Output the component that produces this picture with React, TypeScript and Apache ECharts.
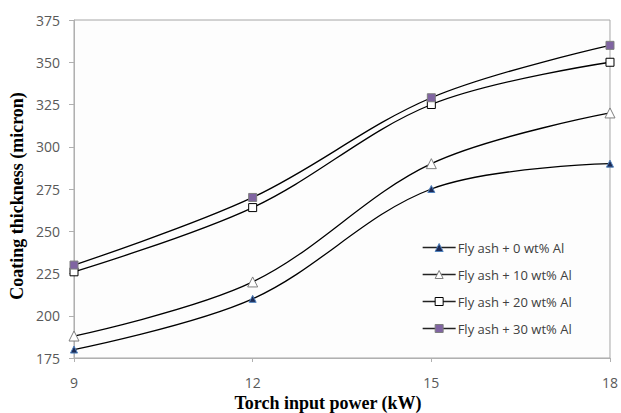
import React, { useEffect, useRef } from "react";
import * as echarts from "echarts";

const power = [9, 12, 15, 18];
const al0 = [180, 210, 275, 290];
const al10 = [188, 220, 290, 320];
const al20 = [226, 264, 325, 350];
const al30 = [230, 270, 329, 360];
const seriesNames = [
  "Fly ash + 0 wt% Al",
  "Fly ash + 10 wt% Al",
  "Fly ash + 20 wt% Al",
  "Fly ash + 30 wt% Al",
];

const styles = [
  { symbol: "triangle", size: 7, fill: "#1c2a55", border: "#4f81bd" },
  { symbol: "triangle", size: 10, fill: "#ffffff", border: "#7f7f7f" },
  { symbol: "rect", size: 8, fill: "#ffffff", border: "#000000" },
  { symbol: "rect", size: 8, fill: "#8064a2", border: "#7f7f7f" },
];

export default function App() {
  const ref = useRef<HTMLDivElement>(null);
  useEffect(() => {
    if (!ref.current) return;
    const chart = echarts.init(ref.current, undefined, { renderer: "svg" });
    const series = [al0, al10, al20, al30].map((vals, k) => ({
      name: seriesNames[k],
      type: "line",
      smooth: 0.35,
      data: power.map((p, i) => [p, vals[i]]),
      symbol: styles[k].symbol,
      symbolSize: styles[k].size,
      showAllSymbol: true,
      lineStyle: { color: "#000", width: 1.3 },
      itemStyle: { color: styles[k].fill, borderColor: styles[k].border, borderWidth: 1 },
      z: 3,
    }));
    chart.setOption({
      animation: false,
      backgroundColor: "#ffffff",
      grid: {
        left: 74,
        right: 9,
        top: 20,
        bottom: 55,
        show: true,
        borderColor: "#a6a6a6",
        borderWidth: 1,
        backgroundColor: "#fdfdfd",
      },
      xAxis: {
        type: "value",
        min: 9,
        max: 18,
        interval: 3,
        axisLine: { show: true, lineStyle: { color: "#b0b0b0" } },
        axisTick: { show: true, length: 4, lineStyle: { color: "#b0b0b0" } },
        axisLabel: { color: "#595959", fontFamily: "Open Sans", fontSize: 14, margin: 17 },
        splitLine: { show: false },
      },
      yAxis: {
        type: "value",
        min: 175,
        max: 375,
        interval: 25,
        axisLine: { show: true, lineStyle: { color: "#b0b0b0" } },
        axisTick: { show: true, length: 5, lineStyle: { color: "#b0b0b0" } },
        axisLabel: { color: "#595959", fontFamily: "Open Sans", fontSize: 14, margin: 14 },
        splitLine: { show: false },
      },
      legend: {
        orient: "vertical",
        left: 417,
        top: 234,
        itemWidth: 33,
        itemHeight: 10,
        itemGap: 10,
        textStyle: { color: "#404040", fontFamily: "Open Sans", fontSize: 13, padding: [0, 0, 0, -3], lineHeight: 17 },
        data: seriesNames.map((n, k) => ({
          name: n,
          itemStyle: { color: styles[k].fill, borderColor: styles[k].border, borderWidth: 1 },
          lineStyle: { color: "#222", width: 1.3 },
        })),
      },
      graphic: [
        {
          type: "text",
          x: 328,
          y: 403,
          style: {
            text: "Torch input power (kW)",
            font: "bold 18px 'Liberation Serif'",
            fill: "#000",
            align: "center",
            verticalAlign: "middle",
          },
        },
        {
          type: "text",
          x: 17,
          y: 196,
          rotation: Math.PI / 2,
          style: {
            text: "Coating thickness (micron)",
            font: "bold 18px 'Liberation Serif'",
            fill: "#000",
            align: "center",
            verticalAlign: "middle",
          },
        },
      ],
      series,
    });
    return () => chart.dispose();
  }, []);
  return (
    <div
      ref={ref}
      style={{ position: "fixed", left: 0, top: 0, width: 621, height: 413 }}
    />
  );
}
